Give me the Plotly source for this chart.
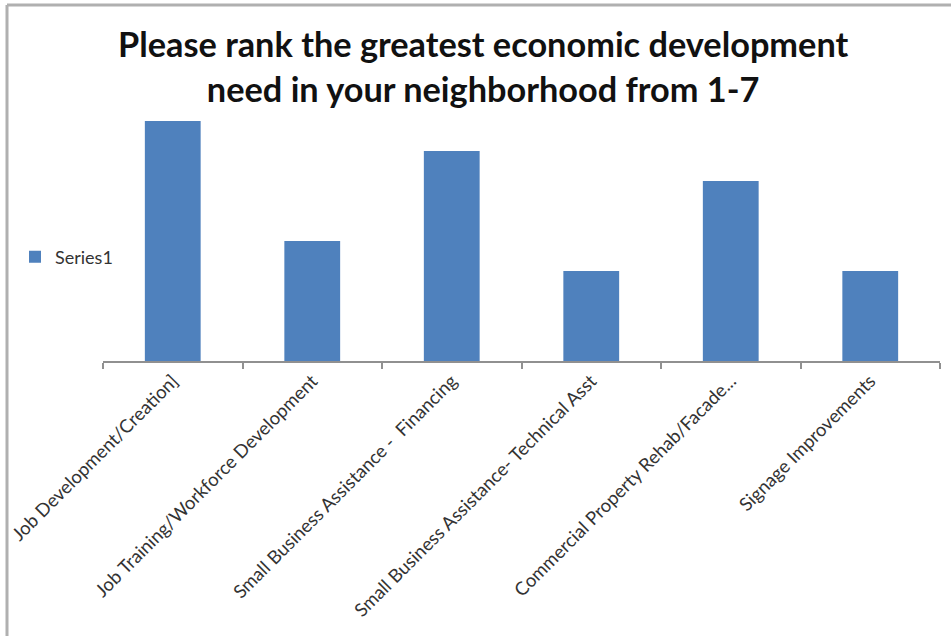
import plotly.graph_objects as go

# Survey responses per economic development need
categories = [
    "Job Development/Creation]",
    "Job Training/Workforce Development",
    "Small Business Assistance -  Financing",
    "Small Business Assistance- Technical Asst",
    "Commercial Property Rehab/Facade...",
    "Signage Improvements",
]
series1 = [8, 4, 7, 3, 6, 3]
chart_title = "Please rank the greatest economic development<br>need in your neighborhood from 1-7"

W, H = 951, 636
L, R, T, B = 103, 11, 121, 275

fig = go.Figure()
fig.add_trace(go.Bar(
    x=categories,
    y=series1,
    name="Series1",
    marker=dict(color="#4F81BD", line=dict(width=0)),
    showlegend=True,
))

# plot-area fractions used to place the outer frame and the title
pw = W - L - R
ph = H - T - B


def px_x(x):
    return (x - L) / pw


def px_y(y):
    return (H - B - y) / ph


frame = dict(color="#b0b0b0", width=3)
shapes = [
    dict(type="line", xref="paper", yref="paper",
         x0=px_x(7), x1=px_x(960), y0=px_y(5), y1=px_y(5), line=frame),
    dict(type="line", xref="paper", yref="paper",
         x0=px_x(7), x1=px_x(7), y0=px_y(5), y1=px_y(640), line=frame),
]

fig.add_annotation(
    text=chart_title,
    xref="paper", yref="paper",
    x=px_x(483), y=px_y(66),
    xanchor="center", yanchor="middle",
    showarrow=False,
    align="center",
    font=dict(family="Lato", size=34.3, color="#111111", weight="bold"),
)

fig.update_layout(
    width=W, height=H,
    margin=dict(l=L, r=R, t=T, b=B, autoexpand=False),
    paper_bgcolor="white",
    plot_bgcolor="white",
    bargap=0.6,
    font=dict(family="Lato", color="#222222"),
    legend=dict(
        x=px_x(15), xanchor="left",
        y=px_y(257), yanchor="middle",
        font=dict(size=18, color="#333333"),
        bgcolor="rgba(0,0,0,0)",
        itemwidth=30,
    ),
    xaxis=dict(
        type="category",
        automargin=False,
        showline=True, linecolor="#909090", linewidth=2,
        ticks="outside", tickson="boundaries", ticklen=6,
        tickcolor="#909090", tickwidth=2,
        tickangle=-45,
        tickfont=dict(family="Lato", size=18.5, color="#333333"),
        showgrid=False,
    ),
    yaxis=dict(
        range=[0, 8],
        visible=False,
        automargin=False,
        showgrid=False,
        zeroline=False,
    ),
    shapes=shapes,
)

fig.write_html("out.html")
